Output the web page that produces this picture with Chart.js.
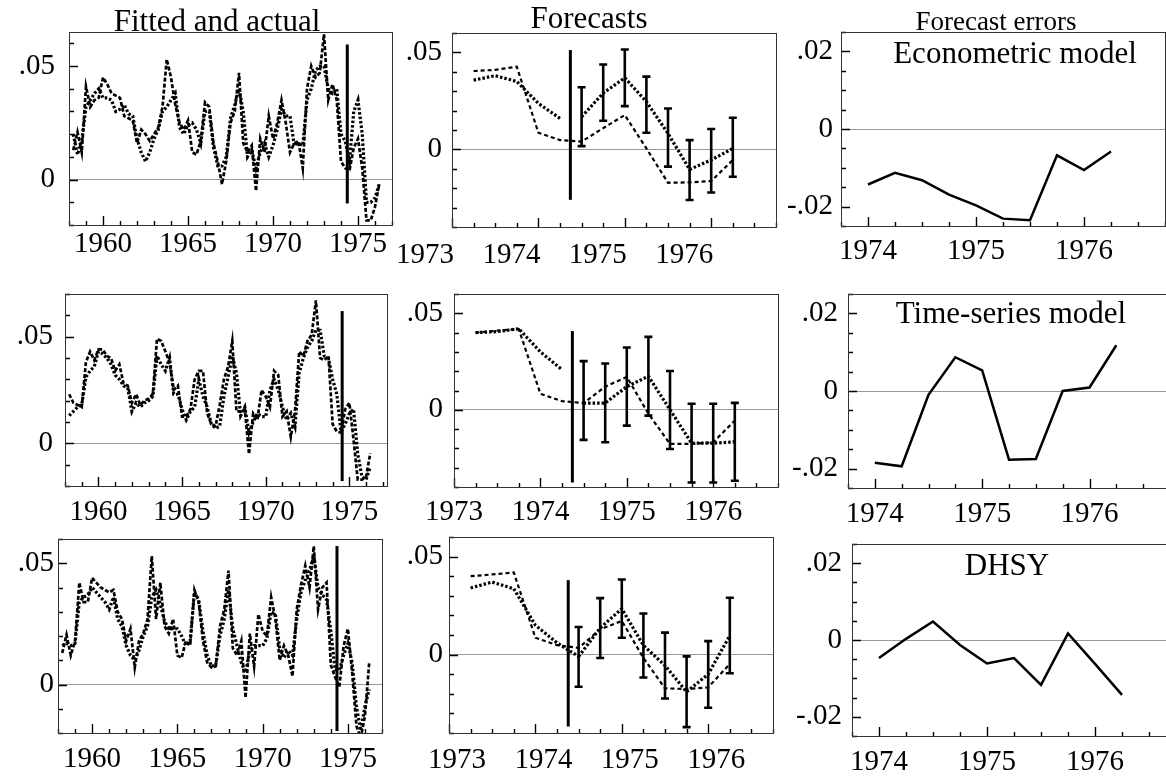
<!DOCTYPE html>
<html>
<head>
<meta charset="utf-8">
<script src="https://cdn.jsdelivr.net/npm/chart.js@4.4.0/dist/chart.umd.min.js"></script>
<style>
  html, body { margin: 0; padding: 0; background: #fff; overflow: hidden; }
  body { width: 1166px; height: 780px; position: relative; font-family: 'Liberation Serif', 'Times New Roman', serif; color: #000; }
  .panel { position: absolute; z-index: 1; }
  .title { position: absolute; z-index: 2; font-size: 31px; line-height: 1; white-space: nowrap; transform: translateX(-50%); }
</style>
</head>
<body>
<div class="title" style="left:217px;top:5px">Fitted and actual</div>
<div class="title" style="left:589px;top:2px">Forecasts</div>
<div class="title" style="left:996px;top:8px;font-size:27px">Forecast errors</div>
<div class="title" style="left:1015px;top:37px">Econometric model</div>
<div class="title" style="left:1011px;top:297px">Time-series model</div>
<div class="title" style="left:1007px;top:549px">DHSY</div>

<script>
// ---- data ----
// fitted and actual: quarterly 1958Q2 .. 1976Q2
var fitDates = [];
for (var i = 0; i < 73; i++) fitDates.push(1958.25 + i * 0.25);

var actual1 = [0.013, 0.021, 0.012, 0.041, 0.032, 0.035, 0.036, 0.045, 0.042, 0.038, 0.037, 0.036, 0.028, 0.027, 0.026,
  0.016, 0.022, 0.020, 0.017, 0.020, 0.023, 0.032, 0.053, 0.045, 0.033, 0.025, 0.022, 0.026, 0.012, 0.011, 0.017,
  0.034, 0.032, 0.016, 0.008, -0.002, 0.008, 0.025, 0.030, 0.047, 0.016, 0.012, 0.015, -0.005, 0.018, 0.012, 0.028,
  0.018, 0.025, 0.035, 0.025, 0.012, 0.016, 0.017, 0.005, 0.040, 0.050, 0.045, 0.047, 0.064, 0.035, 0.042, 0.035,
  0.008, 0.005, 0.004, 0.014, 0.018, 0.005, -0.018, -0.018, -0.012, -0.002];
var fitted1 = [0.020, 0.011, 0.017, 0.032, 0.035, 0.038, 0.040, 0.036, 0.036, 0.035, 0.030, 0.031, 0.033, 0.029, 0.028,
  0.018, 0.012, 0.008, 0.012, 0.018, 0.022, 0.030, 0.032, 0.035, 0.038, 0.023, 0.020, 0.024, 0.025, 0.022, 0.016,
  0.030, 0.030, 0.014, 0.006, 0.006, 0.010, 0.027, 0.033, 0.040, 0.030, 0.010, 0.013, 0.005, 0.012, 0.016, 0.010,
  0.015, 0.022, 0.031, 0.028, 0.028, 0.015, 0.016, 0.015, 0.035, 0.040, 0.048, 0.050, 0.050, 0.040, 0.038, 0.040,
  0.020, 0.017, 0.008, 0.030, 0.035, 0.020, -0.010, -0.010, -0.008, -0.002];

var actual2 = [0.023, 0.019, 0.018, 0.017, 0.038, 0.043, 0.039, 0.044, 0.044, 0.041, 0.040, 0.034, 0.037, 0.028, 0.027,
  0.019, 0.023, 0.018, 0.020, 0.021, 0.023, 0.049, 0.048, 0.043, 0.038, 0.025, 0.027, 0.0125, 0.0125, 0.016, 0.030,
  0.034, 0.034, 0.014, 0.009, 0.008, 0.018, 0.030, 0.036, 0.048, 0.015, 0.015, 0.016, -0.005, 0.014, 0.011, 0.025,
  0.022, 0.017, 0.034, 0.032, 0.0125, 0.015, 0.003, 0.015, 0.043, 0.041, 0.048, 0.051, 0.067, 0.040, 0.039, 0.041,
  0.009, 0.0055, 0.005, 0.016, 0.019, 0.0016, -0.017, -0.017, -0.0156, -0.0047];
var fitted2 = [0.013, 0.015, 0.017, 0.018, 0.031, 0.034, 0.036, 0.043, 0.042, 0.040, 0.037, 0.032, 0.030, 0.027, 0.026,
  0.015, 0.019, 0.017, 0.019, 0.020, 0.022, 0.041, 0.037, 0.034, 0.040, 0.023, 0.023, 0.016, 0.011, 0.015, 0.017,
  0.030, 0.022, 0.017, 0.009, 0.007, 0.008, 0.022, 0.031, 0.041, 0.033, 0.013, 0.017, 0.005, 0.010, 0.014, 0.0125,
  0.0125, 0.025, 0.030, 0.025, 0.017, 0.011, 0.014, 0.008, 0.033, 0.040, 0.045, 0.048, 0.053, 0.053, 0.041, 0.040,
  0.030, 0.023, 0.0055, 0.009, 0.014, 0.016, -0.005, -0.0156, -0.017, -0.011];

var actual3 = [0.013, 0.0205, 0.012, 0.018, 0.042, 0.034, 0.034, 0.044, 0.042, 0.040, 0.039, 0.038, 0.039, 0.030, 0.027,
  0.018, 0.023, 0.007, 0.018, 0.021, 0.027, 0.053, 0.027, 0.042, 0.024, 0.021, 0.027, 0.012, 0.011, 0.018, 0.016,
  0.039, 0.034, 0.018, 0.009, 0.007, 0.0075, 0.024, 0.031, 0.047, 0.015, 0.012, 0.018, -0.0055, 0.021, 0.0075, 0.029,
  0.022, 0.020, 0.036, 0.027, 0.010, 0.016, 0.012, 0.0034, 0.031, 0.041, 0.049, 0.040, 0.057, 0.031, 0.040, 0.042,
  0.008, 0.003, -0.001, 0.016, 0.023, 0.005, -0.017, -0.022, -0.013, 0.009];
var fitted3 = [0.016, 0.017, 0.016, 0.017, 0.034, 0.036, 0.037, 0.040, 0.038, 0.036, 0.034, 0.031, 0.036, 0.027, 0.024,
  0.016, 0.012, 0.010, 0.014, 0.020, 0.024, 0.036, 0.039, 0.033, 0.026, 0.023, 0.023, 0.023, 0.020, 0.016, 0.018,
  0.038, 0.035, 0.022, 0.012, 0.0075, 0.008, 0.020, 0.027, 0.039, 0.023, 0.016, 0.009, 0.005, 0.014, 0.016, 0.016,
  0.016, 0.019, 0.030, 0.029, 0.015, 0.011, 0.014, 0.012, 0.027, 0.038, 0.043, 0.047, 0.053, 0.040, 0.037, 0.035,
  0.022, 0.006, 0.006, 0.012, 0.017, 0.009, -0.009, -0.019, -0.009, -0.002];

// forecast origin line in each row: date, bottom, top
var fitOriginX = [1974.37, 1974.57, 1974.36];
var fitOriginLo = [-0.0105, -0.0177, -0.0192];
var fitOriginHi = [0.0595, 0.062, 0.0571];

// forecasts: quarterly 1973Q2 .. 1976Q2
var fcDates = [1973.25, 1973.5, 1973.75, 1974, 1974.25, 1974.5, 1974.75, 1975, 1975.25, 1975.5, 1975.75, 1976, 1976.25];
var fcActual1 = [0.0404, 0.041, 0.0426, 0.0086, 0.0048, 0.004, 0.011, 0.0177, 0.0005, -0.0172, -0.017, -0.0163, -0.0055];
var fcPre1 = [0.0357, 0.038, 0.035, 0.0237, 0.016, null, null, null, null, null, null, null, null];
var fcPath1 = [null, null, null, null, null, 0.0168, 0.029, 0.0369, 0.0246, 0.0082, -0.0103, -0.0055, 0.0005];
var fcActual2 = [0.040, 0.041, 0.0418, 0.0083, 0.0045, 0.0035, 0.012, 0.017, -0.002, -0.0177, -0.0177, -0.0168, -0.0056];
var fcPre2 = [0.040, 0.0405, 0.042, 0.030, 0.0208, null, null, null, null, null, null, null, null];
var fcPath2 = [null, null, null, null, null, 0.0035, 0.0035, 0.012, 0.0174, 0.0, -0.0173, -0.0173, -0.0166];
var fcActual3 = [0.040, 0.0409, 0.0419, 0.0086, 0.0048, 0.0034, 0.0129, 0.0172, -0.0017, -0.0172, -0.0176, -0.0167, -0.0048];
var fcPre3 = [0.034, 0.037, 0.0336, 0.015, 0.006, -0.001, null, null, null, null, null, null, null];
var fcPath3 = [null, null, null, null, null, -0.001, 0.0136, 0.0234, 0.0047, -0.0056, -0.019, -0.010, 0.0097];

// error bands around the forecasts, 1974Q3 .. 1976Q2
var barDates = [1974.5, 1974.75, 1975, 1975.25, 1975.5, 1975.75, 1976, 1976.25];
var barLo1 = [0.0017, 0.0148, 0.0223, 0.0086, -0.0089, -0.0261, -0.0222, -0.0141];
var barHi1 = [0.032, 0.0438, 0.0515, 0.0375, 0.0211, 0.0048, 0.0105, 0.0163];
var barLo2 = [-0.0156, -0.0168, -0.0082, -0.003, -0.0203, -0.0377, -0.0377, -0.0368];
var barHi2 = [0.0252, 0.024, 0.0323, 0.0378, 0.0201, 0.0031, 0.0031, 0.0036];
var barLo3 = [-0.0164, -0.0017, 0.0086, -0.0117, -0.0224, -0.037, -0.0271, -0.0095];
var barHi3 = [0.0141, 0.0288, 0.0383, 0.021, 0.0112, -0.0009, 0.0069, 0.029];

var fcOriginX = [1974.37, 1974.37, 1974.38];
var fcOriginLo = [-0.026, -0.0377, -0.0367];
var fcOriginHi = [0.0512, 0.0408, 0.038];

// forecast errors: quarterly 1974Q1 .. 1976Q2
var errDates = [1974, 1974.25, 1974.5, 1974.75, 1975, 1975.25, 1975.5, 1975.75, 1976, 1976.25];
var errEconometric = [-0.0143, -0.0113, -0.0132, -0.0169, -0.0197, -0.0231, -0.0235, -0.0068, -0.0106, -0.0058];
var errTimeSeries = [-0.0185, -0.0194, -0.001, 0.0087, 0.0053, -0.0177, -0.0175, 0.0, 0.0009, 0.0118];
var errDHSY = [-0.0047, 0.0003, 0.0048, -0.0013, -0.0061, -0.0047, -0.0117, 0.0017, -0.0062, -0.0143];

// ---- drawing ----
var tickFont = { family: "'Liberation Serif', 'Times New Roman', serif", size: 29 };
var TOP = 50; // room above each plot area

function pts(xs, ys) {
    return xs.map(function (x, i) { return { x: x, y: ys[i] }; });
}

function series(xs, ys, dash, width) {
    return {
        data: pts(xs, ys),
        borderColor: '#000',
        borderWidth: width,
        borderDash: dash,
        pointRadius: 0,
        tension: 0,
        fill: false
    };
}

function vline(x, lo, hi) {
    return series([x, x], [lo, hi], [], 3);
}

function isMul(v, step) {
    var r = v / step;
    return Math.abs(r - Math.round(r)) < 1e-6;
}

function fmtY(v) {
    if (Math.abs(v) < 1e-9) return '0';
    return (v < 0 ? '-' : '') + Math.abs(v).toFixed(2).replace(/^0/, '');
}

// white plot area, inner tick marks, frame and error bars
function frame(p) {
    return {
        id: 'frame',
        beforeDraw: function (chart) {
            var a = chart.chartArea, ctx = chart.ctx;
            ctx.save();
            ctx.fillStyle = '#fff';
            ctx.fillRect(a.left, a.top, a.width, a.height);
            ctx.restore();
        },
        afterDraw: function (chart) {
            var a = chart.chartArea, ctx = chart.ctx;
            var xs = chart.scales.x, ys = chart.scales.y;
            var k, n, v, q;
            ctx.save();
            ctx.strokeStyle = '#000';
            ctx.lineWidth = 1.4;
            ctx.beginPath();
            n = Math.floor((p.x[1] - p.x[0]) / p.x[2] + 1e-6);
            for (k = 0; k <= n; k++) {
                v = p.x[0] + k * p.x[2];
                q = Math.round(xs.getPixelForValue(v)) + 0.5;
                ctx.moveTo(q, a.bottom);
                ctx.lineTo(q, a.bottom - (isMul(v, p.x[3]) ? 9 : 4));
            }
            n = Math.floor((p.y[1] - p.y[0]) / p.y[2] + 1e-6);
            for (k = 0; k <= n; k++) {
                v = p.y[0] + k * p.y[2];
                q = Math.round(ys.getPixelForValue(v)) + 0.5;
                ctx.moveTo(a.left, q);
                ctx.lineTo(a.left + (isMul(v, p.y[3]) ? 9 : 5), q);
            }
            ctx.stroke();
            ctx.lineWidth = 1;
            ctx.strokeStyle = '#333';
            ctx.strokeRect(Math.round(a.left) + 0.5, Math.round(a.top) + 0.5, Math.round(a.width), Math.round(a.height));

            var bars = p.bars;
            if (bars) {
                ctx.strokeStyle = '#000';
                ctx.lineWidth = 2.6;
                ctx.beginPath();
                bars.x.forEach(function (d, i) {
                    var px = xs.getPixelForValue(d);
                    var p1 = ys.getPixelForValue(bars.lo[i]);
                    var p2 = ys.getPixelForValue(bars.hi[i]);
                    ctx.moveTo(px, p1); ctx.lineTo(px, p2);
                    ctx.moveTo(px - 4, p1); ctx.lineTo(px + 4, p1);
                    ctx.moveTo(px - 4, p2); ctx.lineTo(px + 4, p2);
                });
                ctx.stroke();
            }
            ctx.restore();
        }
    };
}

function panel(p) {
    var div = document.createElement('div');
    div.className = 'panel';
    div.style.left = (p.box[0] - 70) + 'px';
    div.style.top = (p.box[1] - TOP) + 'px';
    var cv = document.createElement('canvas');
    cv.width = p.box[2] + 90;
    cv.height = p.box[3] + TOP + 50;
    div.appendChild(cv);
    document.body.appendChild(div);

    new Chart(cv, {
        type: 'line',
        data: { datasets: p.datasets },
        options: {
            responsive: false,
            animation: false,
            layout: { padding: { top: TOP, right: 20, left: 0, bottom: 0 } },
            plugins: { legend: { display: false }, tooltip: { enabled: false } },
            scales: {
                x: {
                    type: 'linear', min: p.x[0], max: p.x[1],
                    afterFit: function (s) { s.height = 50; },
                    grid: { display: false },
                    border: { display: false },
                    ticks: {
                        stepSize: p.x[2], autoSkip: false, maxRotation: 0, minRotation: 0,
                        padding: p.xPad, labelOffset: p.shift || 0, font: tickFont, color: '#000',
                        callback: function (v) { return isMul(v, p.x[3]) ? String(Math.round(v)) : ''; }
                    }
                },
                y: {
                    min: p.y[0], max: p.y[1],
                    afterFit: function (s) { s.width = 70; },
                    grid: {
                        drawTicks: false,
                        lineWidth: 1,
                        color: function (c) { return c.tick && Math.abs(c.tick.value) < 1e-9 ? '#999' : 'rgba(0,0,0,0)'; }
                    },
                    border: { display: false },
                    ticks: {
                        stepSize: p.y[2], autoSkip: false, padding: p.yPad, font: tickFont, color: '#000',
                        callback: function (v) { return isMul(v, p.y[3]) ? fmtY(v) : ''; }
                    }
                }
            }
        },
        plugins: [frame(p)]
    });
}

var dash = [4, 2], dot = [2.5, 2];
var fitX = [1958, 1977, 1, 5];
var fcX = [1973, 1976.75, 0.25, 1];
var errX = [1973.75, 1976.75, 0.25, 1];
var fcY = [-0.04, 0.06, 0.01, 0.05];
var errY = [-0.025, 0.025, 0.005, 0.02];

// row 1
panel({ box: [69, 32, 323, 193], x: fitX, y: [-0.02, 0.065, 0.01, 0.05], xPad: -6, yPad: 14,
    datasets: [series(fitDates, actual1, dash, 2.7), series(fitDates, fitted1, dot, 3.2),
        vline(fitOriginX[0], fitOriginLo[0], fitOriginHi[0])] });
panel({ box: [452, 33, 324, 194], x: fcX, y: fcY, xPad: 3, yPad: 10, shift: -27,
    bars: { x: barDates, lo: barLo1, hi: barHi1 },
    datasets: [series(fcDates, fcActual1, [4, 3], 2.2), series(fcDates, fcPre1, dot, 3.2),
        series(fcDates, fcPath1, dot, 3.2), vline(fcOriginX[0], fcOriginLo[0], fcOriginHi[0])] });
panel({ box: [841, 32, 324, 194], x: errX, y: errY, xPad: 0, yPad: 8,
    datasets: [series(errDates, errEconometric, [], 2.5)] });

// row 2
panel({ box: [65, 294, 322, 192], x: [1958, 1977.25, 1, 5], y: [-0.02, 0.07, 0.01, 0.05], xPad: 1, yPad: 12,
    datasets: [series(fitDates, actual2, dash, 2.7), series(fitDates, fitted2, dot, 3.2),
        vline(fitOriginX[1], fitOriginLo[1], fitOriginHi[1])] });
panel({ box: [454, 294, 324, 193], x: fcX, y: fcY, xPad: 0, yPad: 11,
    bars: { x: barDates, lo: barLo2, hi: barHi2 },
    datasets: [series(fcDates, fcActual2, [4, 3], 2.2), series(fcDates, fcPre2, dot, 3.2),
        series(fcDates, fcPath2, dot, 3.2), vline(fcOriginX[1], fcOriginLo[1], fcOriginHi[1])] });
panel({ box: [848, 294, 322, 194], x: errX, y: errY, xPad: 1, yPad: 10,
    datasets: [series(errDates, errTimeSeries, [], 2.5)] });

// row 3
panel({ box: [58, 539, 324, 194], x: fitX, y: [-0.02, 0.06, 0.01, 0.05], xPad: 1, yPad: 4,
    datasets: [series(fitDates, actual3, dash, 2.7), series(fitDates, fitted3, dot, 3.2),
        vline(fitOriginX[2], fitOriginLo[2], fitOriginHi[2])] });
panel({ box: [449, 537, 324, 196], x: fcX, y: fcY, xPad: 2, yPad: 6, shift: 8,
    bars: { x: barDates, lo: barLo3, hi: barHi3 },
    datasets: [series(fcDates, fcActual3, [4, 3], 2.2), series(fcDates, fcPre3, dot, 3.2),
        series(fcDates, fcPath3, dot, 3.2), vline(fcOriginX[2], fcOriginLo[2], fcOriginHi[2])] });
panel({ box: [852, 544, 324, 192], x: errX, y: errY, xPad: 1, yPad: 10,
    datasets: [series(errDates, errDHSY, [], 2.5)] });
</script>
</body>
</html>
